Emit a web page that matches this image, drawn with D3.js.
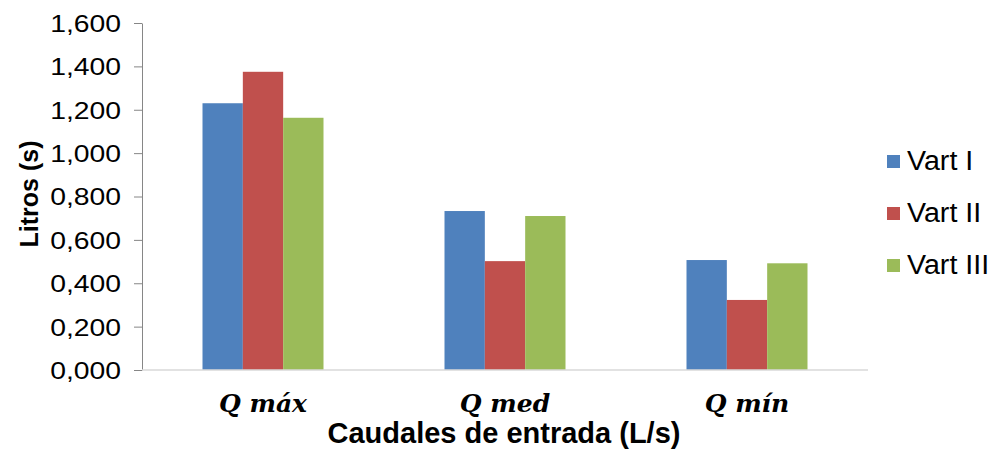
<!DOCTYPE html>
<html>
<head>
<meta charset="utf-8">
<script src="https://cdn.jsdelivr.net/npm/d3@7/dist/d3.min.js"></script>
<style>
body { margin: 0; background: #fff; }
svg { display: block; }
</style>
</head>
<body>
<svg id="svg" width="992" height="454"></svg>
<script>
var categories = ["Q máx", "Q med", "Q mín"];
var series = ["Vart I", "Vart II", "Vart III"];
var vartI = [1.230, 0.733, 0.507];
var vartII = [1.375, 0.502, 0.323];
var vartIII = [1.163, 0.710, 0.492];
var yTicks = [0, 0.2, 0.4, 0.6, 0.8, 1.0, 1.2, 1.4, 1.6];
var colors = ["#4F81BD", "#C0504D", "#9BBB59"];

var values = [vartI, vartII, vartIII];
var svg = d3.select("#svg");

var x = d3.scaleBand()
 .domain(categories)
 .range([142, 868])
 .paddingInner(0.5)
 .paddingOuter(0.25);
var xs = d3.scaleBand()
 .domain(series)
 .range([0, x.bandwidth()]);
var y = d3.scaleLinear()
 .domain([0, 1.6])
 .range([370, 23]);

// bars
series.forEach(function(s, i){
 svg.append("g").selectAll("rect")
 .data(values[i])
 .enter().append("rect")
 .attr("x", function(d, j){ return x(categories[j]) + xs(s); })
 .attr("y", function(d){ return y(d); })
 .attr("width", xs.bandwidth())
 .attr("height", function(d){ return y(0) - y(d); })
 .style("fill", colors[i]);
});

// y axis
var yAxis = svg.append("g")
 .attr("transform", "translate(142,0)")
 .call(d3.axisLeft(y)
 .tickValues(yTicks)
 .tickSize(8)
 .tickSizeOuter(0)
 .tickFormat(function(d){ return d3.format(".3f")(d).replace(".", ","); }));
yAxis.select(".domain").style("stroke", "#868686");
yAxis.selectAll(".tick line").style("stroke", "#868686");
yAxis.selectAll(".tick text")
 .attr("x", -21 / 1.18)
 .attr("dy", "0.35em")
 .attr("transform", "scale(1.18,1)")
 .style("font-family", "Liberation Sans, Arial, sans-serif")
 .style("font-size", "24px")
 .style("fill", "#000");

// x baseline
svg.append("line")
 .attr("x1", 142).attr("x2", 868)
 .attr("y1", y(0)).attr("y2", y(0))
 .style("stroke", "#d9d9d9")
 .style("stroke-width", 1.5);

// category labels
svg.append("g").selectAll("text")
 .data(categories)
 .enter().append("text")
 .attr("x", function(d){ return x(d) + x.bandwidth() / 2; })
 .attr("y", 412)
 .attr("text-anchor", "middle")
 .style("font-family", "DejaVu Serif, serif")
 .style("font-weight", "bold")
 .style("font-style", "italic")
 .style("font-size", "25px")
 .text(function(d){ return d; });

// axis titles
svg.append("text")
 .attr("x", 504)
 .attr("y", 443)
 .attr("text-anchor", "middle")
 .style("font-family", "Liberation Sans, Arial, sans-serif")
 .style("font-weight", "bold")
 .style("font-size", "29px")
 .text("Caudales de entrada (L/s)");

svg.append("text")
 .attr("transform", "translate(38,194) rotate(-90)")
 .attr("text-anchor", "middle")
 .style("font-family", "Liberation Sans, Arial, sans-serif")
 .style("font-weight", "bold")
 .style("font-size", "25px")
 .text("Litros (s)");

// legend
var legend = svg.append("g").selectAll("g")
 .data(series)
 .enter().append("g")
 .attr("transform", function(d, i){ return "translate(887," + (155 + i * 52) + ")"; });
legend.append("rect")
 .attr("width", 13)
 .attr("height", 13)
 .style("fill", function(d, i){ return colors[i]; });
legend.append("text")
 .attr("x", 20 / 1.06)
 .attr("y", 15)
 .attr("transform", "scale(1.06,1)")
 .style("font-family", "Liberation Sans, Arial, sans-serif")
 .style("font-size", "27px")
 .text(function(d){ return d; });
</script>
</body>
</html>
